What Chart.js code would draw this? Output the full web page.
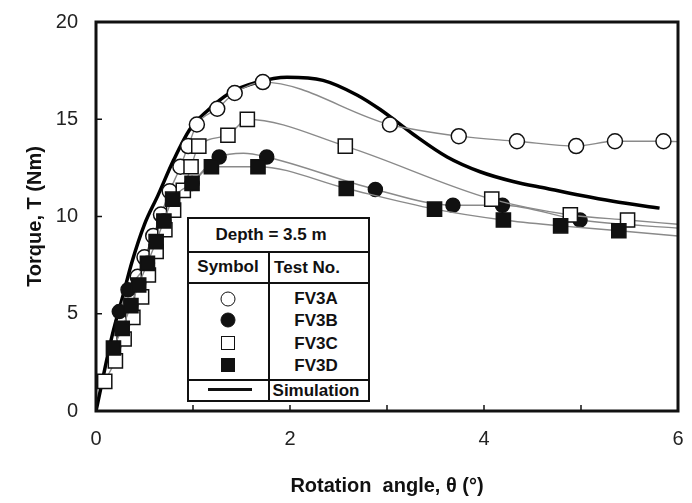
<!DOCTYPE html>
<html>
<head>
  <title>Torque vs rotation angle, depth 3.5 m</title>
  <style>
    body {
      margin: 0;
      background: #fff;
      font-family: "Liberation Sans", Arial, sans-serif;
    }
    #wrap {
      position: relative;
      width: 692px;
      height: 503px;
    }
    .box {
      position: absolute;
      left: 187px;
      top: 217px;
      width: 183px;
      height: 185px;
      border: 2px solid #111;
      box-sizing: border-box;
      background: #fff;
    }
    .hl, .vl {
      position: absolute;
      background: #111;
    }
    .txt {
      position: absolute;
      transform: translate(-50%, -50%);
      font-weight: bold;
      font-size: 17px;
      color: #111;
      white-space: nowrap;
    }
    .sym {
      position: absolute;
      transform: translate(-50%, -50%);
      box-sizing: border-box;
      border: 1.5px solid #111;
    }
  </style>
</head>
<body>
  <div id="wrap">
    <canvas id="chart" width="692" height="503"></canvas>

    <div class="box"></div>
    <div class="hl" style="left:188px; top:251px; width:181px; height:1.5px;"></div>
    <div class="hl" style="left:188px; top:282px; width:181px; height:1.5px;"></div>
    <div class="hl" style="left:188px; top:379px; width:181px; height:1.5px;"></div>
    <div class="vl" style="left:268px; top:252px; width:1.5px; height:149px;"></div>

    <div class="txt" style="left:271px; top:235px;">Depth = 3.5 m</div>
    <div class="txt" style="left:228px; top:267px;">Symbol</div>
    <div class="txt" style="left:307px; top:268px;">Test No.</div>

    <div class="sym" style="left:228px; top:299px; width:15px; height:15px; border-radius:50%; background:#fff;"></div>
    <div class="sym" style="left:228px; top:320px; width:15px; height:15px; border-radius:50%; background:#111;"></div>
    <div class="sym" style="left:228px; top:343px; width:14px; height:14px; background:#fff;"></div>
    <div class="sym" style="left:228px; top:365px; width:14px; height:14px; background:#111;"></div>
    <div class="hl" style="left:208px; top:388px; width:44px; height:3px;"></div>

    <div class="txt" style="left:316px; top:299px;">FV3A</div>
    <div class="txt" style="left:316px; top:321px;">FV3B</div>
    <div class="txt" style="left:316px; top:344px;">FV3C</div>
    <div class="txt" style="left:316px; top:366px;">FV3D</div>
    <div class="txt" style="left:316px; top:391px;">Simulation</div>
  </div>

  <script src="https://cdn.jsdelivr.net/npm/chart.js"></script>
  <script>
    // measured series (last value of each test is the line running on to the frame)
    const fv3aX = [0.43, 0.50, 0.59, 0.67, 0.76, 0.87, 0.95, 1.04, 1.25, 1.43, 1.72, 3.03, 3.74, 4.34, 4.95, 5.35, 5.85, 6.0];
    const fv3aY = [6.9, 7.9, 9.0, 10.1, 11.3, 12.56, 13.62, 14.73, 15.54, 16.35, 16.91, 14.73, 14.13, 13.87, 13.62, 13.87, 13.87, 13.85];

    const fv3bX = [0.24, 0.33, 0.53, 0.70, 0.99, 1.27, 1.52, 1.76, 2.88, 3.68, 4.19, 4.99, 6.0];
    const fv3bY = [5.11, 6.23, 7.59, 9.77, 11.70, 13.06, 13.25, 13.06, 11.39, 10.58, 10.58, 9.82, 9.4];

    const fv3cX = [0.09, 0.20, 0.29, 0.38, 0.47, 0.54, 0.62, 0.71, 0.80, 0.90, 0.98, 1.06, 1.36, 1.56, 2.57, 4.08, 4.89, 5.48, 6.0];
    const fv3cY = [1.52, 2.58, 3.70, 4.81, 5.87, 6.99, 8.20, 9.32, 10.33, 11.34, 12.56, 13.62, 14.18, 14.99, 13.62, 10.89, 10.08, 9.82, 9.6];

    const fv3dX = [0.18, 0.27, 0.36, 0.44, 0.53, 0.62, 0.70, 0.79, 0.99, 1.19, 1.67, 2.58, 3.49, 4.20, 4.79, 5.39, 6.0];
    const fv3dY = [3.24, 4.25, 5.42, 6.48, 7.59, 8.71, 9.77, 10.89, 11.70, 12.56, 12.56, 11.44, 10.38, 9.82, 9.52, 9.27, 9.0];

    const simX = [0, 0.17, 0.28, 0.37, 0.50, 0.64, 0.80, 0.97, 1.14, 1.38, 1.66, 1.97, 2.34, 2.69, 2.93, 3.27, 3.62, 3.96, 4.30, 4.65, 4.99, 5.33, 5.81];
    const simY = [0, 3.95, 5.97, 7.65, 9.6, 11.1, 12.9, 14.5, 15.4, 16.35, 16.9, 17.16, 17.0, 16.25, 15.5, 14.23, 13.06, 12.3, 11.8, 11.44, 11.09, 10.78, 10.43];

    const xTicks = [0, 2, 4, 6];
    const yTicks = [0, 5, 10, 15, 20];

    const pts = (xs, ys) => xs.map((x, i) => ({ x: x, y: ys[i] }));
    const FONT = '"Liberation Sans", Arial, sans-serif';
    const GREY = '#8a8a8a';

    // no marker on the tail point that only carries the line to the frame
    const tailless = r => ctx => ctx.dataIndex === ctx.dataset.data.length - 1 ? 0 : r;
    // FV3B peak bump is a line shape only, not a measured marker
    const bumpless = r => ctx => (ctx.dataIndex === 6 || ctx.dataIndex === ctx.dataset.data.length - 1) ? 0 : r;

    const test = (label, xs, ys, style, fill, radius) => ({
      label: label,
      data: pts(xs, ys),
      borderColor: GREY,
      borderWidth: 1.4,
      cubicInterpolationMode: 'monotone',
      pointStyle: style,
      pointRadius: radius,
      pointBackgroundColor: fill,
      pointBorderColor: '#111',
      pointBorderWidth: 1.5
    });

    // inward tick marks and the heavy frame around the plot
    const frame = {
      id: 'frame',
      afterDatasetsDraw(chart) {
        const { ctx, chartArea: a, scales: { x, y } } = chart;
        ctx.save();
        ctx.strokeStyle = '#111';
        ctx.lineWidth = 1.5;
        for (let v = 1; v < 6; v++) {
          const px = x.getPixelForValue(v);
          ctx.beginPath();
          ctx.moveTo(px, a.bottom);
          ctx.lineTo(px, a.bottom - 6);
          ctx.stroke();
        }
        for (let v = 5; v < 20; v += 5) {
          const py = y.getPixelForValue(v);
          ctx.beginPath();
          ctx.moveTo(a.left, py);
          ctx.lineTo(a.left + 6, py);
          ctx.stroke();
        }
        ctx.lineWidth = 3;
        ctx.strokeRect(a.left, a.top, a.right - a.left, a.bottom - a.top);
        ctx.restore();
      }
    };

    new Chart(document.getElementById('chart'), {
      type: 'line',
      data: {
        datasets: [
          test('FV3D', fv3dX, fv3dY, 'rect', '#111', tailless(10)),
          test('FV3C', fv3cX, fv3cY, 'rect', '#fff', tailless(10)),
          test('FV3B', fv3bX, fv3bY, 'circle', '#111', bumpless(7)),
          test('FV3A', fv3aX, fv3aY, 'circle', '#fff', tailless(7.5)),
          {
            label: 'Simulation',
            data: pts(simX, simY),
            borderColor: '#000',
            borderWidth: 3.5,
            cubicInterpolationMode: 'monotone',
            pointRadius: 0
          }
        ]
      },
      options: {
        responsive: false,
        animation: false,
        layout: { padding: { top: 16, right: 14, left: 0, bottom: 0 } },
        plugins: { legend: { display: false }, tooltip: { enabled: false } },
        scales: {
          x: {
            type: 'linear',
            min: 0,
            max: 6,
            afterFit: s => { s.height = 92; },
            afterBuildTicks: s => { s.ticks = xTicks.map(v => ({ value: v })); },
            grid: { display: false },
            border: { display: false },
            ticks: {
              autoSkip: false,
              maxRotation: 0,
              padding: 8,
              color: '#222',
              font: { family: FONT, size: 20 }
            },
            title: {
              display: true,
              text: 'Rotation  angle, θ (°)',
              color: '#111',
              font: { family: FONT, size: 20, weight: 'bold' },
              padding: { top: 0, bottom: 5 }
            }
          },
          y: {
            min: 0,
            max: 20,
            afterFit: s => { s.width = 96; },
            afterBuildTicks: s => { s.ticks = yTicks.map(v => ({ value: v })); },
            grid: { display: false },
            border: { display: false },
            ticks: {
              padding: 10,
              color: '#222',
              font: { family: FONT, size: 20 }
            },
            title: {
              display: true,
              text: 'Torque, T (Nm)',
              color: '#111',
              font: { family: FONT, size: 20, weight: 'bold' },
              padding: { top: 23, bottom: 0 }
            }
          }
        }
      },
      plugins: [frame]
    });
  </script>
</body>
</html>
